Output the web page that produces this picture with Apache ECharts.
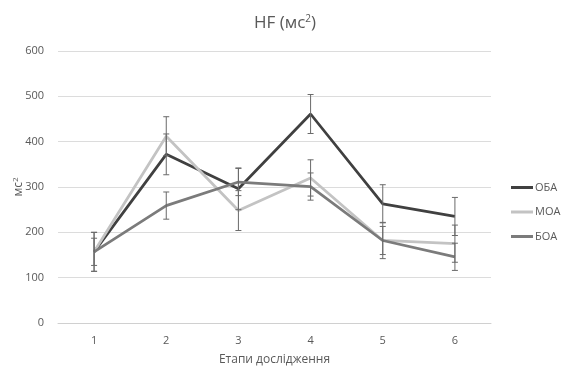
<!DOCTYPE html>
<html><head><meta charset="utf-8">
<script src="https://cdn.jsdelivr.net/npm/echarts@6/dist/echarts.min.js"></script>
<style>html,body{margin:0;padding:0;background:#fff}#c{width:570px;height:367px}</style>
</head><body><div id="c"></div>
<script>
const categories = ['1','2','3','4','5','6'];
const seriesNames = ['ОБА','МОА','БОА'];
const oba = [157, 372, 296, 461, 263, 235];
const moa = [157, 412, 248, 320, 182, 175];
const boa = [157, 259, 311, 301, 182, 146];
const obaErr = [43, 45, 46, 43, 42, 42];
const moaErr = [43, 43, 44, 40, 40, 41];
const boaErr = [30, 30, 30, 30, 31, 30];

const colors = ['#404040', '#c3c3c3', '#7b7b7b'];
const font = 'Open Sans';

function errData(vals, errs) {
  return vals.map((v, i) => [i, v - errs[i], v + errs[i]]);
}
function renderErr(params, api) {
  const x = api.value(0);
  const lo = api.coord([x, api.value(1)]);
  const hi = api.coord([x, api.value(2)]);
  const w = 3;
  const st = { stroke: '#6a6a6a', lineWidth: 1 };
  return {
    type: 'group',
    children: [
      { type: 'line', shape: { x1: lo[0], y1: lo[1], x2: hi[0], y2: hi[1] }, style: st },
      { type: 'line', shape: { x1: lo[0] - w, y1: lo[1], x2: lo[0] + w, y2: lo[1] }, style: st },
      { type: 'line', shape: { x1: hi[0] - w, y1: hi[1], x2: hi[0] + w, y2: hi[1] }, style: st }
    ]
  };
}
const vals = [oba, moa, boa];
const errs = [obaErr, moaErr, boaErr];
const series = [];
seriesNames.forEach((n, k) => {
  series.push({
    name: n, type: 'line', data: vals[k], symbol: 'none',
    lineStyle: { color: colors[k], width: 2.75 }, itemStyle: { color: colors[k] }, z: 3
  });
});
seriesNames.forEach((n, k) => {
  series.push({
    type: 'custom', renderItem: renderErr, data: errData(vals[k], errs[k]),
    encode: { x: 0, y: [1, 2] }, z: 5, silent: true
  });
});

const chart = echarts.init(document.getElementById('c'), null, { renderer: 'canvas' });
chart.setOption({
  animation: false,
  textStyle: { fontFamily: font },
  title: {
    text: 'HF (мс{sup|2})', left: 'center', top: 9,
    textStyle: { fontFamily: font, fontSize: 17, fontWeight: 'normal', color: '#595959',
      rich: { sup: { fontSize: 10, verticalAlign: 'top', padding: [0, 0, 9, 0], color: '#595959', fontFamily: font } } }
  },
  legend: {
    orient: 'vertical', left: 506, top: 177, itemGap: 13.5, itemWidth: 22, itemHeight: 10,
    data: seriesNames.map((n, k) => ({ name: n, icon: 'path://M0,4L22,4L22,7L0,7Z' })),
    textStyle: { fontFamily: font, fontSize: 11, color: '#595959', padding: [0, 0, 0, -3] }
  },
  grid: { left: 58, right: 79, top: 51, bottom: 44, outerBoundsMode: 'none', containLabel: false },
  xAxis: {
    type: 'category', data: categories, boundaryGap: true,
    axisLine: { lineStyle: { color: '#d0d0d0', width: 1 } },
    axisTick: { show: false },
    axisLabel: { color: '#595959', fontSize: 11, margin: 12 },
    name: 'Етапи дослідження', nameLocation: 'middle', nameGap: 31, nameMoveOverlap: false,
    nameTextStyle: { color: '#595959', fontSize: 12, fontFamily: font }
  },
  yAxis: {
    type: 'value', min: 0, max: 600, interval: 100,
    axisLine: { show: false }, axisTick: { show: false },
    axisLabel: { color: '#595959', fontSize: 11, margin: 14 },
    splitLine: { lineStyle: { color: '#dcdcdc', width: 1 } },
    name: 'мс{sup|2}', nameLocation: 'middle', nameGap: 32, nameRotate: 90, nameMoveOverlap: false,
    nameTextStyle: { color: '#595959', fontSize: 12, fontFamily: font,
      rich: { sup: { fontSize: 8, verticalAlign: 'top', padding: [0, 0, 6, 0], color: '#595959' } } }
  },
  series: series
});
</script></body></html>
